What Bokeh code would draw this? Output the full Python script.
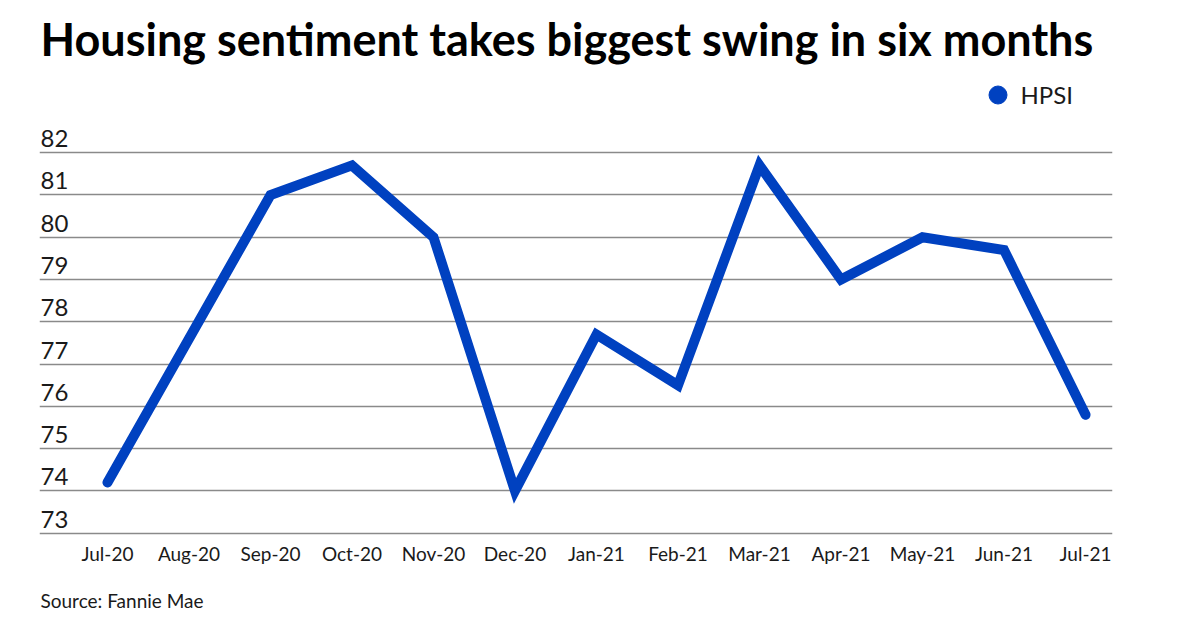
from bokeh.plotting import figure
from bokeh.models import Range1d, FixedTicker, Legend, LegendItem, ColumnDataSource, Title
from bokeh.core.properties import value
from bokeh.embed import file_html
from bokeh.resources import INLINE

months = ["Jul-20", "Aug-20", "Sep-20", "Oct-20", "Nov-20", "Dec-20", "Jan-21",
          "Feb-21", "Mar-21", "Apr-21", "May-21", "Jun-21", "Jul-21"]
hpsi = [74.2, 77.6, 81.0, 81.7, 80.0, 74.0, 77.7, 76.5, 81.7, 79.0, 80.0, 79.7, 75.8]
y_ticks = [73, 74, 75, 76, 77, 78, 79, 80, 81, 82]

BLUE = "#0041C0"
FONT = "Lato"
TXT = "#1a1a1a"

idx = list(range(len(months)))
src = ColumnDataSource(dict(x=idx, y=hpsi))

x_start, x_end = -0.834, 12.331
p = figure(width=1200, height=630, output_backend="svg", toolbar_location=None,
           x_range=Range1d(x_start, x_end), y_range=Range1d(72.874, 84.063),
           y_axis_location=None, min_border_left=39, min_border_right=88,
           min_border_top=0, min_border_bottom=0, title=None)
p.outline_line_color = None
p.background_fill_color = "white"
p.border_fill_color = "white"

# title (closest to frame) and a spacer above it
p.add_layout(Title(text="Housing sentiment takes biggest swing in six months",
                   align="left", offset=1, standoff=0, text_font=FONT,
                   text_font_style="bold", text_font_size="45px",
                   text_color="#000000"), "above")
p.add_layout(Title(text=" ", standoff=0, text_font_size="7px"), "above")

# grid
p.xgrid.visible = False
p.ygrid.ticker = FixedTicker(ticks=y_ticks)
p.ygrid.grid_line_color = "#8a8a8a"
p.ygrid.grid_line_width = 1.3

# x axis
ax = p.xaxis[0]
ax.ticker = FixedTicker(ticks=idx)
ax.major_label_overrides = {i: m for i, m in zip(idx, months)}
ax.axis_line_color = None
ax.major_tick_line_color = None
ax.minor_tick_line_color = None
ax.major_tick_in = 0
ax.major_tick_out = 0
ax.major_label_standoff = 3
ax.major_label_text_font = FONT
ax.major_label_text_font_size = "19px"
ax.major_label_text_color = TXT

# source note
p.add_layout(Title(text="Source: Fannie Mae", align="left", offset=1,
                   text_font=FONT, text_font_style="normal",
                   text_font_size="19px", text_color=TXT, standoff=38), "below")

# y labels sitting above the gridlines
p.text(x=[x_start] * len(y_ticks), y=y_ticks, text=[str(t) for t in y_ticks],
       text_font=value(FONT), text_font_size="24px", text_color=TXT,
       text_baseline="middle", text_align="left", x_offset=1, y_offset=-14)

# series
dots = p.scatter("x", "y", source=src, size=8, color=BLUE)
p.line("x", "y", source=src, line_color=BLUE, line_width=10,
       line_cap="round", line_join="miter")

legend = Legend(items=[LegendItem(label="HPSI", renderers=[dots])],
                location=(935.5, 421.5), orientation="horizontal",
                glyph_width=45, glyph_height=45, label_standoff=1,
                padding=0, margin=0, spacing=0,
                label_text_font=FONT, label_text_font_size="24px",
                label_text_color=TXT, border_line_color=None,
                background_fill_alpha=0, click_policy="none")
p.add_layout(legend)

open("out.html", "w").write(file_html(p, INLINE))
